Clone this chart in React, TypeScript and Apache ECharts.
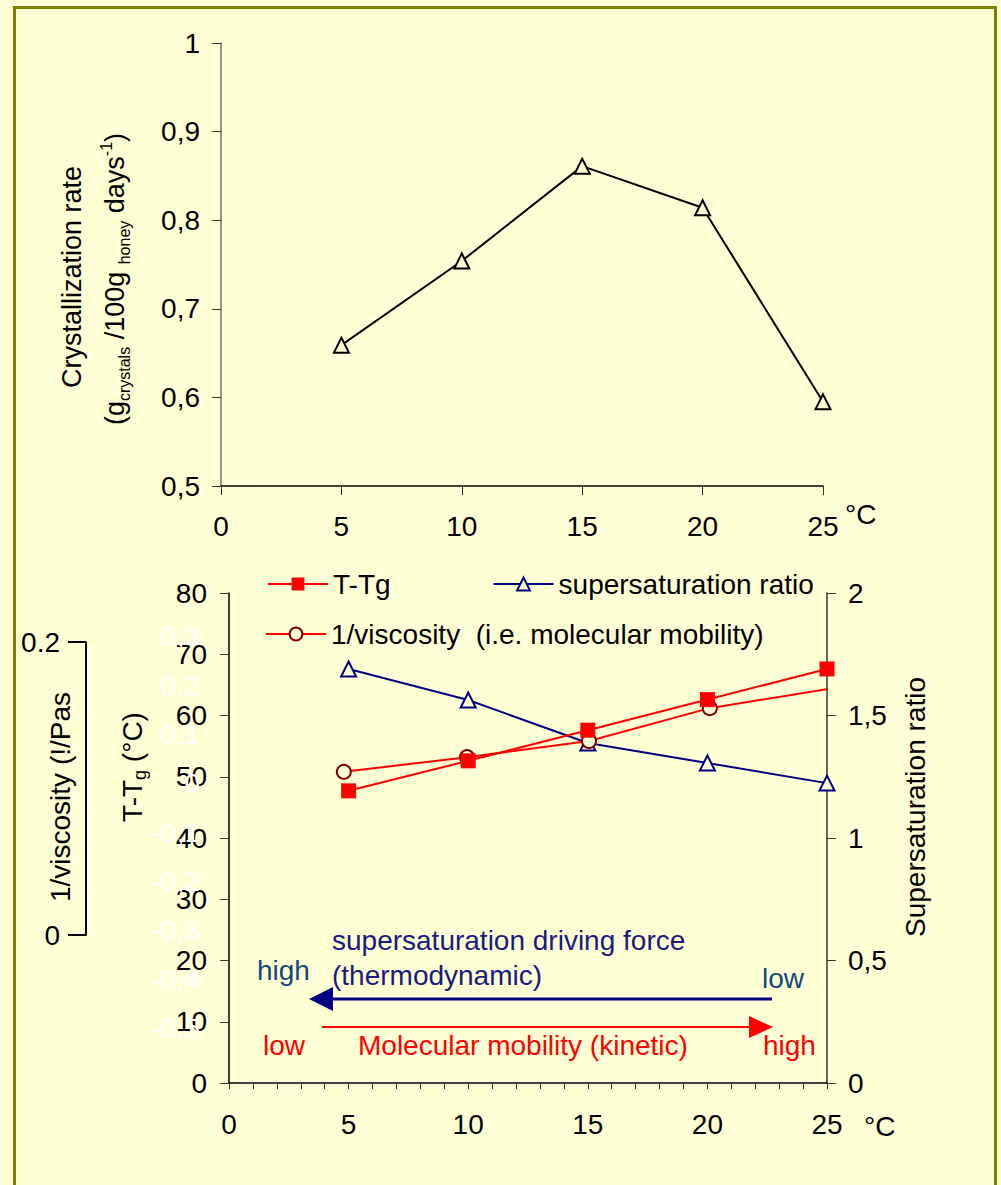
import React, { useEffect, useRef } from "react";
import * as echarts from "echarts";

// ---- data ----
const rateTemps = [5, 10, 15, 20, 25];
const rateValues = [0.659, 0.754, 0.861, 0.814, 0.595];

const tTgTemps = [5, 10, 15, 20, 25];
const tTgValues = [47.7, 52.6, 57.6, 62.6, 67.6];

const superTemps = [5, 10, 15, 20, 25];
const superValues = [1.69, 1.563, 1.388, 1.306, 1.224];

const viscTemps = [4.8, 9.95, 15.05, 20.1, 25.15];
const viscValues = [0.023, 0.053, 0.086, 0.153, 0.193];

const ghostTicks = [-0.5, -0.4, -0.3, -0.2, -0.1, 0, 0.1, 0.2, 0.3];

const BG = "#FFFFD5";
const FONT = '"Liberation Sans", Arial, sans-serif';
const FS = 28;

const comma = (v: number) => String(Number(v.toFixed(2))).replace(".", ",");

export default function App() {
  const ref = useRef<HTMLDivElement>(null);
  useEffect(() => {
    document.body.style.margin = "0";
    document.body.style.background = BG;
    const chart = echarts.init(ref.current!, null, { renderer: "svg" });
    const axisLbl = { fontSize: FS, color: "#000", fontFamily: FONT };
    const legendText = { fontSize: FS, color: "#000", fontFamily: FONT };
    const option: any = {
      animation: false,
      backgroundColor: BG,
      textStyle: { fontFamily: FONT },
      grid: [
        { left: 221, top: 43, width: 602, height: 443 },
        { left: 229, top: 593, width: 598, height: 490 },
        { left: 86, top: 642, width: 1, height: 293 },
      ],
      legend: [
        {
          left: 262,
          top: 565,
          itemWidth: 60,
          itemHeight: 16,
          itemGap: 102,
          textStyle: legendText,
          data: ["T-Tg", "supersaturation ratio"],
        },
        {
          left: 260,
          top: 615,
          itemWidth: 60,
          itemHeight: 16,
          textStyle: legendText,
          data: ["1/viscosity  (i.e. molecular mobility)"],
        },
      ],
      xAxis: [
        {
          gridIndex: 0,
          type: "value",
          min: 0,
          max: 25,
          interval: 5,
          axisLine: { onZero: false, lineStyle: { color: "#000", width: 1.5 } },
          axisTick: { length: 9, lineStyle: { color: "#333" } },
          axisLabel: { ...axisLbl, margin: 26 },
          splitLine: { show: false },
        },
        {
          gridIndex: 1,
          type: "value",
          min: 0,
          max: 25,
          interval: 1,
          axisLine: { onZero: false, lineStyle: { color: "#000", width: 1.5 } },
          axisTick: { length: 6, lineStyle: { color: "#333" } },
          axisLabel: {
            ...axisLbl,
            margin: 27,
            formatter: (v: number) => (v % 5 === 0 ? String(v) : ""),
          },
          splitLine: { show: false },
        },
        { gridIndex: 2, type: "value", show: false, min: 0, max: 1 },
      ],
      yAxis: [
        {
          gridIndex: 0,
          type: "value",
          min: 0.5,
          max: 1,
          interval: 0.1,
          axisLine: { show: true, onZero: false, lineStyle: { color: "#707070", width: 1.5 } },
          axisTick: { show: true, length: 9, lineStyle: { color: "#333" } },
          axisLabel: { ...axisLbl, margin: 21, formatter: (v: number) => comma(v) },
          splitLine: { show: false },
        },
        {
          gridIndex: 1,
          type: "value",
          min: 0,
          max: 80,
          interval: 10,
          axisLine: { show: true, onZero: false, lineStyle: { color: "#000", width: 1.5 } },
          axisTick: { show: true, length: 9, lineStyle: { color: "#333" } },
          axisLabel: { ...axisLbl, margin: 22 },
          splitLine: { show: false },
        },
        {
          gridIndex: 1,
          type: "value",
          position: "right",
          min: 0,
          max: 2,
          interval: 0.5,
          axisLine: { show: true, onZero: false, lineStyle: { color: "#333", width: 1.5 } },
          axisTick: { show: true, length: 9, lineStyle: { color: "#333" } },
          axisLabel: { ...axisLbl, margin: 21, formatter: (v: number) => comma(v) },
          splitLine: { show: false },
        },
        {
          gridIndex: 1,
          type: "value",
          position: "left",
          min: -0.612,
          max: 0.388,
          axisLine: { show: false, onZero: false },
          axisTick: { show: false },
          axisLabel: {
            ...axisLbl,
            color: "#FFFFFF",
            margin: 29,
            customValues: ghostTicks,
            formatter: (v: number) => comma(v),
          },
          splitLine: { show: false },
        },
        {
          gridIndex: 2,
          type: "value",
          min: 0,
          max: 0.2,
          interval: 0.2,
          axisLine: { show: true, onZero: false, lineStyle: { color: "#000", width: 2 } },
          axisTick: { show: true, length: 18, lineStyle: { color: "#000", width: 2 } },
          axisLabel: {
            ...axisLbl,
            margin: 26,
            formatter: (v: number) => (v === 0 ? "0" : "0.2"),
          },
          splitLine: { show: false },
        },
      ],
      series: [
        {
          name: "rate",
          type: "line",
          xAxisIndex: 0,
          yAxisIndex: 0,
          data: rateTemps.map((t, i) => [t, rateValues[i]]),
          symbol: "triangle",
          symbolSize: 15,
          itemStyle: { color: BG, borderColor: "#000", borderWidth: 2 },
          lineStyle: { color: "#000", width: 2 },
        },
        {
          name: "supersaturation ratio",
          type: "line",
          xAxisIndex: 1,
          yAxisIndex: 2,
          data: superTemps.map((t, i) => [t, superValues[i]]),
          symbol: "triangle",
          symbolSize: 15,
          itemStyle: { color: BG, borderColor: "#000080", borderWidth: 2 },
          lineStyle: { color: "#000080", width: 2 },
        },
        {
          name: "1/viscosity  (i.e. molecular mobility)",
          type: "line",
          xAxisIndex: 1,
          yAxisIndex: 3,
          data: viscTemps.map((t, i) => [t, viscValues[i]]),
          symbol: "circle",
          symbolSize: 14,
          itemStyle: { color: BG, borderColor: "#800000", borderWidth: 2 },
          lineStyle: { color: "#FF0000", width: 2 },
        },
        {
          name: "T-Tg",
          type: "line",
          xAxisIndex: 1,
          yAxisIndex: 1,
          data: tTgTemps.map((t, i) => [t, tTgValues[i]]),
          symbol: "rect",
          symbolSize: 15,
          itemStyle: { color: "#FF0000" },
          lineStyle: { color: "#FF0000", width: 2 },
        },
      ],
      graphic: [
        {
          type: "rect",
          shape: { x: 14.5, y: 7.5, width: 981, height: 1200 },
          style: { fill: "none", stroke: "#808000", lineWidth: 3 },
          silent: true,
        },
        {
          type: "text",
          x: 72,
          y: 277,
          rotation: Math.PI / 2,
          style: { text: "Crystallization rate", font: `27px ${FONT}`, fill: "#000", align: "center", verticalAlign: "middle" },
        },
        {
          type: "text",
          x: 115,
          y: 279,
          rotation: Math.PI / 2,
          style: {
            text: "{a|(g}{s|crystals}{a| /100g }{s|honey}{a| days}{p|-1}{a|)}",
            align: "center",
            verticalAlign: "middle",
            fill: "#000",
            rich: {
              a: { fontSize: 27, fontFamily: FONT, lineHeight: 34, fill: "#000" },
              s: { fontSize: 16, fontFamily: FONT, lineHeight: 16, verticalAlign: "bottom", fill: "#000" },
              p: { fontSize: 16, fontFamily: FONT, lineHeight: 16, verticalAlign: "top", fill: "#000" },
            },
          },
        },
        {
          type: "text",
          x: 132,
          y: 767,
          rotation: Math.PI / 2,
          style: {
            text: "{a|T-T}{s|g}{a| (°C)}",
            align: "center",
            verticalAlign: "middle",
            rich: {
              a: { fontSize: FS, fontFamily: FONT, lineHeight: 34, fill: "#000" },
              s: { fontSize: 18, fontFamily: FONT, lineHeight: 18, verticalAlign: "bottom", fill: "#000" },
            },
          },
        },
        {
          type: "text",
          x: 915,
          y: 807,
          rotation: Math.PI / 2,
          style: { text: "Supersaturation ratio", font: `${FS}px ${FONT}`, fill: "#000", align: "center", verticalAlign: "middle" },
        },
        {
          type: "text",
          x: 60,
          y: 797,
          rotation: Math.PI / 2,
          style: { text: "1/viscosity (!/Pas", font: `${FS}px ${FONT}`, fill: "#000", align: "center", verticalAlign: "middle" },
        },
        {
          type: "text",
          x: 845,
          y: 514,
          style: { text: "°C", font: `${FS}px ${FONT}`, fill: "#000", align: "left", verticalAlign: "middle" },
        },
        {
          type: "text",
          x: 864,
          y: 1126,
          style: { text: "°C", font: `${FS}px ${FONT}`, fill: "#000", align: "left", verticalAlign: "middle" },
        },
        // blue arrow (thermodynamic)
        {
          type: "line",
          shape: { x1: 772, y1: 999, x2: 330, y2: 999 },
          style: { stroke: "#000080", lineWidth: 3 },
        },
        {
          type: "polygon",
          shape: { points: [[309, 999], [333, 987], [333, 1011]] },
          style: { fill: "#000080" },
        },
        // red arrow (kinetic)
        {
          type: "line",
          shape: { x1: 322, y1: 1027, x2: 752, y2: 1027 },
          style: { stroke: "#FF0000", lineWidth: 2 },
        },
        {
          type: "polygon",
          shape: { points: [[773, 1027], [749, 1016], [749, 1038]] },
          style: { fill: "#FF0000" },
        },
        {
          type: "text",
          x: 332,
          y: 940,
          style: { text: "supersaturation driving force", font: `${FS}px ${FONT}`, fill: "#1A1A80", align: "left", verticalAlign: "middle" },
        },
        {
          type: "text",
          x: 332,
          y: 975,
          style: { text: "(thermodynamic)", font: `${FS}px ${FONT}`, fill: "#1A1A80", align: "left", verticalAlign: "middle" },
        },
        {
          type: "text",
          x: 257,
          y: 970,
          style: { text: "high", font: `${FS}px ${FONT}`, fill: "#17467A", align: "left", verticalAlign: "middle" },
        },
        {
          type: "text",
          x: 762,
          y: 978,
          style: { text: "low", font: `${FS}px ${FONT}`, fill: "#17467A", align: "left", verticalAlign: "middle" },
        },
        {
          type: "text",
          x: 263,
          y: 1045,
          style: { text: "low", font: `${FS}px ${FONT}`, fill: "#FF0000", align: "left", verticalAlign: "middle" },
        },
        {
          type: "text",
          x: 358,
          y: 1045,
          style: { text: "Molecular mobility (kinetic)", font: `${FS}px ${FONT}`, fill: "#FF0000", align: "left", verticalAlign: "middle" },
        },
        {
          type: "text",
          x: 763,
          y: 1045,
          style: { text: "high", font: `${FS}px ${FONT}`, fill: "#FF0000", align: "left", verticalAlign: "middle" },
        },
      ],
    };
    chart.setOption(option);
    return () => chart.dispose();
  }, []);
  return <div ref={ref} style={{ width: 1001, height: 1185, background: BG }} />;
}
